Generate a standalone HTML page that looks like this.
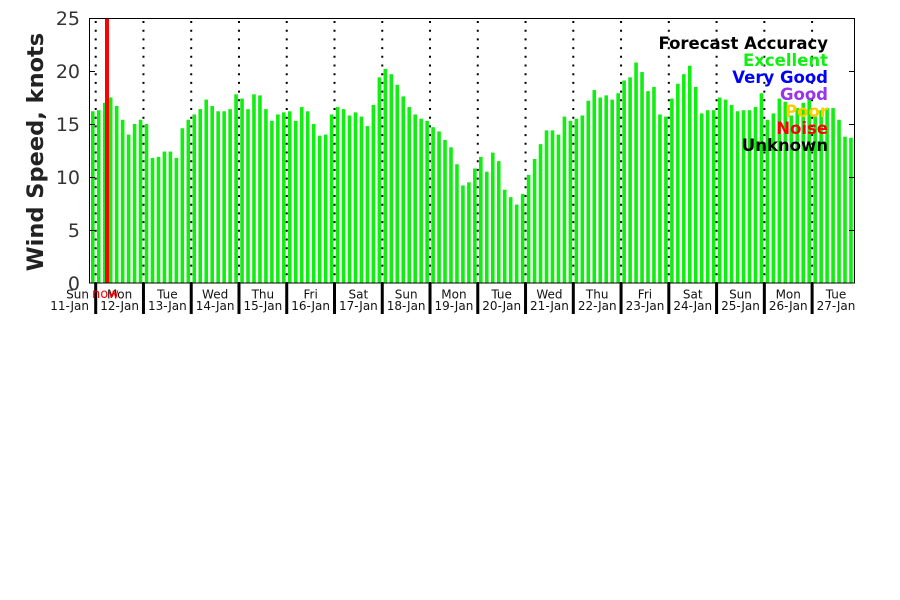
<!DOCTYPE html>
<html><head><meta charset="utf-8"><style>
html,body{margin:0;padding:0;background:#fff;}
svg{display:block;}
text{font-family:"DejaVu Sans","Liberation Sans",sans-serif;}
</style></head><body>
<svg width="900" height="600" viewBox="0 0 900 600" xmlns="http://www.w3.org/2000/svg">
<rect width="900" height="600" fill="#fff"/>
<g id="bars" fill="#11ee11"></g>
<g id="dots" stroke="#000" stroke-width="2" stroke-dasharray="2,6.7"></g>
<rect x="105" y="18" width="4" height="265" fill="#ff0000"/>
<rect x="89.5" y="18.5" width="765" height="264.5" fill="none" stroke="#000" stroke-width="1"/>
<g stroke="#000" stroke-width="1">
<line x1="89.5" y1="71.5" x2="95" y2="71.5"/><line x1="89.5" y1="124.5" x2="95" y2="124.5"/><line x1="89.5" y1="177.5" x2="95" y2="177.5"/><line x1="89.5" y1="230.5" x2="95" y2="230.5"/>
<line x1="849" y1="71.5" x2="854.5" y2="71.5"/><line x1="849" y1="124.5" x2="854.5" y2="124.5"/><line x1="849" y1="177.5" x2="854.5" y2="177.5"/><line x1="849" y1="230.5" x2="854.5" y2="230.5"/>
</g>
<g font-size="19" fill="#333" text-anchor="end">
<text x="80" y="290">0</text><text x="80" y="237">5</text><text x="80" y="184">10</text><text x="80" y="131">15</text><text x="80" y="78">20</text><text x="80" y="25">25</text>
</g>
<text transform="translate(43,152) rotate(-90)" text-anchor="middle" font-size="22.5" font-weight="bold" fill="#222">Wind Speed, knots</text>
<g id="seps" fill="#000"></g>
<g id="xl" font-size="12" fill="#111" text-anchor="middle"></g>
<text x="92" y="298" font-size="13" fill="#ff0000">now</text>
<g font-size="16.5" font-weight="bold" text-anchor="end">
<text x="828" y="49" fill="#000">Forecast Accuracy</text>
<text x="828" y="66" fill="#11ee11">Excellent</text>
<text x="828" y="83" fill="#0000ff">Very Good</text>
<text x="828" y="100" fill="#9933ee">Good</text>
<text x="828" y="117" fill="#ffcc00">Poor</text>
<text x="828" y="134" fill="#ff0000">Noise</text>
<text x="828" y="151" fill="#000">Unknown</text>
</g>
</svg>
<script>
var v=[16.2,16.3,17.0,17.5,16.7,15.4,14.0,15.0,15.4,15.0,11.8,11.9,12.4,12.4,11.8,14.6,15.4,15.9,16.4,17.3,16.7,16.2,16.2,16.4,17.8,17.4,16.4,17.8,17.7,16.4,15.3,15.9,16.1,16.2,15.3,16.6,16.2,15.0,13.9,14.0,15.9,16.6,16.4,15.8,16.1,15.7,14.8,16.8,19.4,20.2,19.7,18.7,17.6,16.6,15.9,15.5,15.3,14.7,14.3,13.5,12.8,11.2,9.2,9.5,
10.8,11.9,10.5,12.3,11.5,8.8,8.1,7.4,8.4,10.2,11.7,13.1,14.4,14.4,14.0,
15.7,15.3,15.5,15.8,17.2,18.2,17.5,17.7,17.3,17.9,19.1,19.4,20.8,19.9,18.1,18.5,15.9,15.7,17.4,18.8,19.7,20.5,18.5,16.0,16.3,16.3,17.5,17.3,16.8,16.2,16.3,16.3,16.6,17.9,15.4,16.0,17.4,17.1,15.8,16.5,17.0,17.4,15.9,16.3,16.5,16.5,15.4,13.8,13.7];
var NS="http://www.w3.org/2000/svg";
function el(t,a,p){var e=document.createElementNS(NS,t);for(var k in a)e.setAttribute(k,a[k]);p.appendChild(e);return e;}
var b=document.getElementById('bars');
for(var i=0;i<v.length;i++){var h=v[i]*10.6;el('rect',{x:(91+i*5.97).toFixed(2),y:(283-h).toFixed(2),width:3.6,height:h.toFixed(2)},b);}
var d=document.getElementById('dots'),s=document.getElementById('seps'),xl=document.getElementById('xl');
var days=["Mon","Tue","Wed","Thu","Fri","Sat","Sun","Mon","Tue","Wed","Thu","Fri","Sat","Sun","Mon","Tue"];
for(var j=0;j<16;j++){var x=95.7+47.76*j;
el('line',{x1:x,y1:21,x2:x,y2:283},d);
el('rect',{x:x-1.5,y:283,width:3,height:31},s);
var c=x+23.9;
if(c<860){var t=el('text',{x:c,y:298.5},xl);t.textContent=days[j];
var t2=el('text',{x:c,y:310},xl);t2.textContent=(12+j)+"-Jan";}}
var a=el('text',{x:89,y:298.5,'text-anchor':'end'},xl);a.textContent="Sun";
var a2=el('text',{x:89,y:310,'text-anchor':'end'},xl);a2.textContent="11-Jan";
</script>
</body></html>
